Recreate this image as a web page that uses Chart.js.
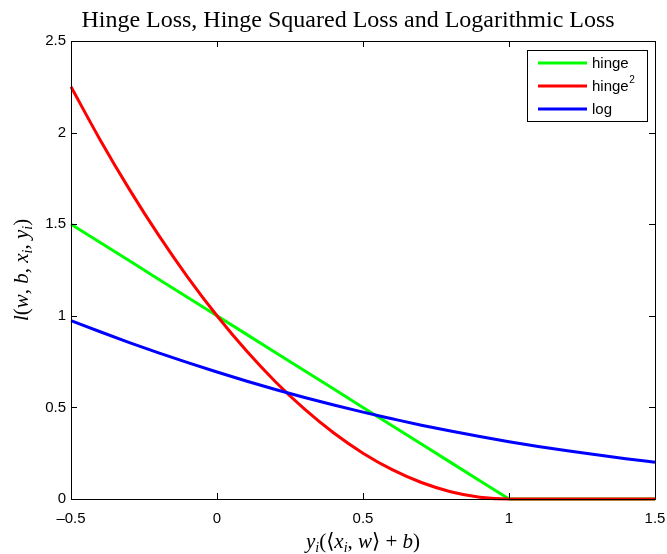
<!DOCTYPE html>
<html>
<head>
<meta charset="utf-8">
<script src="https://cdn.jsdelivr.net/npm/chart.js@4.4.1/dist/chart.umd.min.js"></script>
<style>
    body { margin: 0; background: #fff; }
    #wrap { width: 667px; height: 554px; }
</style>
</head>
<body>
<div id="wrap"><canvas id="mycanvas" width="667" height="554"></canvas></div>
<script>
var xs = [-0.5, -0.4, -0.3, -0.2, -0.1, 0, 0.1, 0.2, 0.3, 0.4, 0.5,
          0.6, 0.7, 0.8, 0.9, 1.0, 1.1, 1.2, 1.3, 1.4, 1.5];
var hinge = [1.5, 1.4, 1.3, 1.2, 1.1, 1.0, 0.9, 0.8, 0.7, 0.6, 0.5,
             0.4, 0.3, 0.2, 0.1, 0, 0, 0, 0, 0, 0];
var hingeSq = [2.25, 1.96, 1.69, 1.44, 1.21, 1.0, 0.81, 0.64, 0.49, 0.36, 0.25,
               0.16, 0.09, 0.04, 0.01, 0, 0, 0, 0, 0, 0];
var logLoss = [0.974, 0.913, 0.854, 0.798, 0.744, 0.693, 0.644, 0.598, 0.554, 0.513, 0.474,
               0.438, 0.403, 0.371, 0.341, 0.313, 0.287, 0.263, 0.241, 0.220, 0.201];
var seriesLabels = ['hinge', 'hinge²', 'log'];
var seriesColors = ['#00ff00', '#ff0000', '#0000ff'];
var xTicks = [-0.5, 0, 0.5, 1, 1.5];
var yTicks = [0, 0.5, 1, 1.5, 2, 2.5];

var titleText = 'Hinge Loss, Hinge Squared Loss and Logarithmic Loss';
// runs: i = italic, r = roman, s = subscript
var xTitle = [['y', 'i'], ['i', 's'], ['(⟨', 'r'], ['x', 'i'], ['i', 's'], [', ', 'r'],
              ['w', 'i'], ['⟩ + ', 'r'], ['b', 'i'], [')', 'r']];
var yTitle = [['l', 'i'], ['(', 'r'], ['w', 'i'], [', ', 'r'], ['b', 'i'], [', ', 'r'],
              ['x', 'i'], ['i', 's'], [', ', 'r'], ['y', 'i'], ['i', 's'], [')', 'r']];

var SERIF = '"Liberation Serif", "DejaVu Serif", "DejaVu Sans", serif';
var SANS = '"Liberation Sans", Arial, sans-serif';

function pts(ys) {
    return xs.map(function (x, i) { return { x: x, y: ys[i] }; });
}

function runFont(kind) {
    if (kind === 'i') return 'italic 21px ' + SERIF;
    if (kind === 's') return 'italic 14px ' + SERIF;
    return '21px ' + SERIF;
}

function drawRich(ctx, runs, cx, baseY) {
    var total = 0;
    runs.forEach(function (r) {
        ctx.font = runFont(r[1]);
        total += ctx.measureText(r[0]).width;
    });
    var x = cx - total / 2;
    ctx.textAlign = 'left';
    ctx.textBaseline = 'alphabetic';
    runs.forEach(function (r) {
        ctx.font = runFont(r[1]);
        ctx.fillText(r[0], x, r[1] === 's' ? baseY + 4 : baseY);
        x += ctx.measureText(r[0]).width;
    });
}

var decor = {
    id: 'decor',
    afterDraw: function (chart) {
        var ctx = chart.ctx;
        var a = chart.chartArea;
        var xs_ = chart.scales.x, ys_ = chart.scales.y;
        ctx.save();
        ctx.fillStyle = '#000';
        ctx.strokeStyle = '#000';

        // box
        ctx.lineWidth = 1;
        ctx.strokeRect(Math.round(a.left) + 0.5, Math.round(a.top) + 0.5,
            Math.round(a.right - a.left), Math.round(a.bottom - a.top));

        // inward ticks
        ctx.beginPath();
        xTicks.forEach(function (v) {
            var px = Math.round(xs_.getPixelForValue(v)) + 0.5;
            ctx.moveTo(px, a.bottom); ctx.lineTo(px, a.bottom - 6);
            ctx.moveTo(px, a.top); ctx.lineTo(px, a.top + 6);
        });
        yTicks.forEach(function (v) {
            var py = Math.round(ys_.getPixelForValue(v)) + 0.5;
            ctx.moveTo(a.left, py); ctx.lineTo(a.left + 6, py);
            ctx.moveTo(a.right, py); ctx.lineTo(a.right - 6, py);
        });
        ctx.stroke();

        // title
        ctx.font = '24px ' + SERIF;
        ctx.textAlign = 'center';
        ctx.textBaseline = 'alphabetic';
        ctx.fillText(titleText, 348, 27);

        // axis titles
        drawRich(ctx, xTitle, (a.left + a.right) / 2, 548);
        ctx.save();
        ctx.translate(28, (a.top + a.bottom) / 2);
        ctx.rotate(-Math.PI / 2);
        drawRich(ctx, yTitle, 0, 0);
        ctx.restore();

        // legend
        var lx = 527.5, ly = 50.5, lw = 120, lh = 71;
        ctx.fillStyle = '#fff';
        ctx.fillRect(lx, ly, lw, lh);
        ctx.strokeRect(lx, ly, lw, lh);
        var rows = [63, 86, 109];
        chart.data.datasets.forEach(function (ds, i) {
            ctx.strokeStyle = ds.borderColor;
            ctx.lineWidth = 3;
            ctx.beginPath();
            ctx.moveTo(538, rows[i]);
            ctx.lineTo(587, rows[i]);
            ctx.stroke();
            ctx.fillStyle = '#000';
            ctx.font = '15px ' + SANS;
            ctx.textAlign = 'left';
            ctx.textBaseline = 'middle';
            var lab = ds.label;
            if (lab.slice(-1) === '²') {
                var base = lab.slice(0, -1);
                ctx.fillText(base, 592, rows[i] + 1);
                var w = ctx.measureText(base).width;
                ctx.font = '10px ' + SANS;
                ctx.fillText('2', 592 + w + 0.5, rows[i] - 6);
            } else {
                ctx.fillText(lab, 592, rows[i] + 1);
            }
        });
        ctx.restore();
    }
};

var ctx = document.getElementById('mycanvas');
var datasets = [
    { label: seriesLabels[0], data: pts(hinge), borderColor: seriesColors[0], order: 2, tension: 0 },
    { label: seriesLabels[1], data: pts(hingeSq), borderColor: seriesColors[1], order: 1, cubicInterpolationMode: 'monotone' },
    { label: seriesLabels[2], data: pts(logLoss), borderColor: seriesColors[2], order: 0, cubicInterpolationMode: 'monotone' }
];
datasets.forEach(function (d) {
    d.borderWidth = 3;
    d.pointRadius = 0;
    d.fill = false;
    d.clip = 4;
});

var lossChart = new Chart(ctx, {
    type: 'line',
    data: { datasets: datasets },
    options: {
        responsive: false,
        animation: false,
        layout: { padding: { top: 41, right: 12, left: 0, bottom: 0 } },
        plugins: { legend: { display: false }, tooltip: { enabled: false }, title: { display: false } },
        scales: {
            x: {
                type: 'linear',
                min: -0.5, max: 1.5,
                afterFit: function (s) { s.height = 55; s.paddingLeft = 0; s.paddingRight = 0; },
                afterBuildTicks: function (s) { s.ticks = xTicks.map(function (v) { return { value: v }; }); },
                grid: { display: false, drawTicks: false },
                border: { display: false },
                ticks: {
                    autoSkip: false, maxRotation: 0, padding: 11, color: '#000',
                    font: { family: SANS, size: 15 },
                    callback: function (v) { return String(v).replace('-', '–'); }
                }
            },
            y: {
                type: 'linear',
                min: 0, max: 2.5,
                afterFit: function (s) { s.width = 71; s.paddingTop = 0; s.paddingBottom = 0; },
                afterBuildTicks: function (s) { s.ticks = yTicks.map(function (v) { return { value: v }; }); },
                grid: { display: false, drawTicks: false },
                border: { display: false },
                ticks: {
                    autoSkip: false, padding: 5, color: '#000',
                    font: { family: SANS, size: 15 },
                    callback: function (v) { return String(v); }
                }
            }
        }
    },
    plugins: [decor]
});
</script>
</body>
</html>
